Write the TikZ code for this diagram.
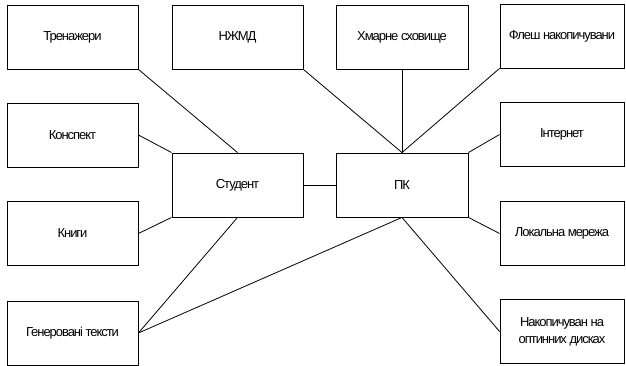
\documentclass[tikz,border=0pt]{standalone}
\usepackage{fontspec}
\setmainfont{Liberation Sans}[LetterSpace=-8]
\begin{document}
\begin{tikzpicture}[x=1pt,y=-1pt,
  box/.style={draw,line width=0.9pt,minimum width=131pt,minimum height=64pt,
    inner sep=1pt,align=center,font=\fontsize{13}{17}\selectfont},
  link/.style={line width=0.8pt}]
\useasboundingbox (0,0) rectangle (626,366);
% left column
\node[box] (tren)  at (72.5,37)   {Тренажери};
\node[box] (konsp) at (72.5,135)  {Конспект};
\node[box] (knyhy) at (72.5,233.5){Книги};
\node[box] (gen)   at (72.5,333)  {Генеровані тексти};
% middle
\node[box] (nzhmd) at (237.5,37)  {НЖМД};
\node[box,minimum width=132pt] (hmar) at (402,37) {Хмарне сховище};
\node[box] (stud)  at (237.5,185) {Студент};
\node[box,minimum width=132pt] (pk) at (402,185) {ПК};
% right column
\node[box,minimum width=124pt] (flesh) at (562,36)    {Флеш накопичувани};
\node[box,minimum width=124pt] (inet)  at (562,134.5) {Інтернет};
\node[box,minimum width=124pt] (lok)   at (562,233.5) {Локальна мережа};
\node[box,minimum width=124pt] (nak)   at (562,331.5) {Накопичуван на\\оптинних дисках};
% student links
\draw[link] (tren.south east) -- (stud.north);
\draw[link] (konsp.east) -- (stud.north west);
\draw[link] (knyhy.east) -- (stud.south west);
\draw[link] (gen.east) -- (stud.south);
\draw[link] (gen.east) -- (pk.south);
\draw[link] (stud.east) -- (pk.west);
% computer links
\draw[link] (nzhmd.south east) -- (pk.north);
\draw[link] (hmar.south) -- (pk.north);
\draw[link] (flesh.south west) -- (pk.north);
\draw[link] (inet.west) -- (pk.north east);
\draw[link] (lok.west) -- (pk.south east);
\draw[link] (nak.west) -- (pk.south);
\end{tikzpicture}
\end{document}
